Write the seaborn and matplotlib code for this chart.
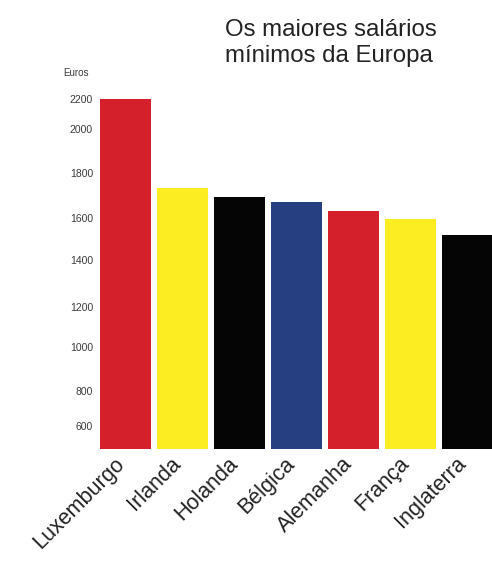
import numpy as np
import matplotlib
matplotlib.use("Agg")
import matplotlib.pyplot as plt
import matplotlib.transforms as mtransforms
import seaborn as sns

# Data
countries = ["Luxemburgo", "Irlanda", "Holanda", "Bélgica", "Alemanha", "França", "Inglaterra"]
salaries = [2200, 1733, 1692, 1670, 1632, 1595, 1519]
bar_colors = ["#d3202a", "#fcec22", "#050505", "#253f80", "#d3202a", "#fcec22", "#050505"]
tick_values = [600, 800, 1000, 1200, 1400, 1600, 1800, 2000, 2200]

# Axis is drawn with uneven spacing between the labelled values:
# breakpoints (value -> height above the baseline, in pixels)
scale_vals = np.array([0, 600, 800, 1000, 1200, 1400, 1600, 1800, 2000, 2200, 3000], dtype=float)
scale_pos = np.array([-82, 23, 58, 102, 142, 189, 231, 276, 320, 350, 470], dtype=float)


def forward(v):
    return np.interp(v, scale_vals, scale_pos)


def inverse(p):
    return np.interp(p, scale_pos, scale_vals)


sns.set_theme(style="white")
plt.rcParams["font.family"] = ["Liberation Sans", "DejaVu Sans"]

fig = plt.figure(figsize=(4.92, 5.61), dpi=100)
ax = fig.add_axes([100 / 492, 1 - 449 / 561, 393 / 492, 389 / 561])

ax.set_yscale("function", functions=(forward, inverse))

sns.barplot(x=countries, y=salaries, hue=countries, palette=bar_colors,
            legend=False, width=0.9, saturation=1, linewidth=0, ax=ax)

ax.set_xlim(-0.45, 6.45)
ax.set_ylim(inverse(0), inverse(389))
ax.set_yticks(tick_values)
ax.set_yticklabels([str(t) for t in tick_values])
ax.yaxis.set_minor_locator(matplotlib.ticker.NullLocator())
ax.tick_params(axis="y", length=0, pad=5, labelsize=7.5, labelcolor="#3a3a3a")
ax.tick_params(axis="x", length=0, pad=3, labelsize=15.5, labelcolor="#222222")

# rotated country names, nudged a little to the left of each bar centre
shift = mtransforms.ScaledTranslation(-0.12, 0, fig.dpi_scale_trans)
for lbl in ax.get_xticklabels():
    lbl.set_rotation(45)
    lbl.set_ha("right")
    lbl.set_va("top")
    lbl.set_rotation_mode("anchor")
    lbl.set_transform(lbl.get_transform() + shift)

ax.set_xlabel("")
ax.set_ylabel("")
for s in ax.spines.values():
    s.set_visible(False)

fig.text(63 / 492, 1 - 73 / 561, "Euros", fontsize=7, color="#3a3a3a",
         ha="left", va="center")
fig.text(225 / 492, 1 - 43 / 561, "Os maiores salários\nmínimos da Europa",
         fontsize=17.3, color="#222222", ha="left", va="center", linespacing=1.25)

fig.savefig("out.png", dpi=100, facecolor="white")
